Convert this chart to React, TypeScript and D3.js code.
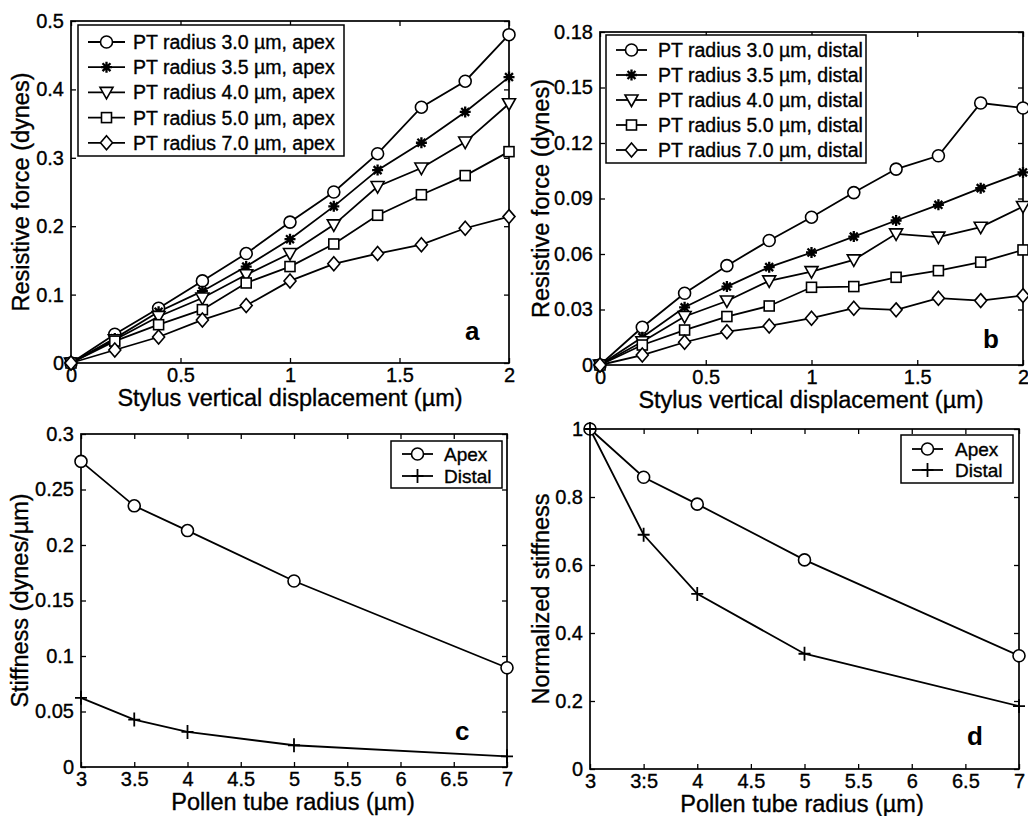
import React, { useEffect, useRef } from 'react';
import * as d3 from 'd3';

// ---- data ----
const displacement = [0, 0.2, 0.4, 0.6, 0.8, 1.0, 1.2, 1.4, 1.6, 1.8, 2.0];

const apex30 = [0, 0.042, 0.080, 0.120, 0.160, 0.206, 0.250, 0.306, 0.374, 0.412, 0.480];
const apex35 = [0, 0.036, 0.075, 0.105, 0.141, 0.181, 0.229, 0.282, 0.322, 0.367, 0.418];
const apex40 = [0, 0.034, 0.068, 0.095, 0.129, 0.160, 0.202, 0.258, 0.285, 0.323, 0.379];
const apex50 = [0, 0.032, 0.056, 0.078, 0.117, 0.141, 0.174, 0.216, 0.246, 0.274, 0.309];
const apex70 = [0, 0.019, 0.038, 0.063, 0.084, 0.120, 0.145, 0.160, 0.173, 0.197, 0.214];

const distal30 = [0, 0.0204, 0.0388, 0.0537, 0.0673, 0.0799, 0.0932, 0.1059, 0.1131, 0.1416, 0.1389];
const distal35 = [0, 0.0150, 0.0312, 0.0424, 0.0529, 0.0608, 0.0694, 0.0781, 0.0866, 0.0956, 0.1041];
const distal40 = [0, 0.0126, 0.0262, 0.0346, 0.0455, 0.0505, 0.0568, 0.0709, 0.0691, 0.0745, 0.0857];
const distal50 = [0, 0.0108, 0.0189, 0.0262, 0.0319, 0.0420, 0.0424, 0.0474, 0.0510, 0.0556, 0.0622];
const distal70 = [0, 0.0054, 0.0123, 0.0180, 0.0211, 0.0253, 0.0307, 0.0298, 0.0361, 0.0348, 0.0375];

const radius = [3, 3.5, 4, 5, 7];
const stiffApex = [0.2753, 0.2353, 0.2130, 0.1676, 0.0894];
const stiffDistal = [0.0623, 0.0427, 0.0316, 0.0196, 0.0096];
const normApex = [1.0, 0.858, 0.779, 0.615, 0.333];
const normDistal = [1.0, 0.689, 0.515, 0.339, 0.185];

const seriesMarkers = ['circle', 'star', 'triangle', 'square', 'diamond'];
const apexLabels = ['PT radius 3.0 µm, apex', 'PT radius 3.5 µm, apex', 'PT radius 4.0 µm, apex', 'PT radius 5.0 µm, apex', 'PT radius 7.0 µm, apex'];
const distalLabels = ['PT radius 3.0 µm, distal', 'PT radius 3.5 µm, distal', 'PT radius 4.0 µm, distal', 'PT radius 5.0 µm, distal', 'PT radius 7.0 µm, distal'];
const stiffLabels = ['Apex', 'Distal'];
const stiffMarkers = ['circle', 'plus'];

const dispTicks = [0, 0.5, 1, 1.5, 2];
const dispTickLabels = ['0', '0.5', '1', '1.5', '2'];
const forceATicks = [0, 0.1, 0.2, 0.3, 0.4, 0.5];
const forceATickLabels = ['0', '0.1', '0.2', '0.3', '0.4', '0.5'];
const forceBTicks = [0, 0.03, 0.06, 0.09, 0.12, 0.15, 0.18];
const forceBTickLabels = ['0', '0.03', '0.06', '0.09', '0.12', '0.15', '0.18'];
const radiusTicks = [3, 3.5, 4, 4.5, 5, 5.5, 6, 6.5, 7];
const radiusTickLabelsC = ['3', '3.5', '4', '4.5', '5', '5.5', '6', '6.5', '7'];
const radiusTickLabelsD = ['3', '3:5', '4', '4.5', '5', '5.5', '6', '6.5', '7'];
const stiffTicks = [0, 0.05, 0.1, 0.15, 0.2, 0.25, 0.3];
const stiffTickLabels = ['0', '0.05', '0.1', '0.15', '0.2', '0.25', '0.3'];
const normTicks = [0, 0.2, 0.4, 0.6, 0.8, 1];
const normTickLabels = ['0', '0.2', '0.4', '0.6', '0.8', '1'];

const FONT = 'Liberation Sans, Arial, Helvetica, sans-serif';

// scanned print looks a touch heavier than plain regular weight
function ink(sel) {
  return sel.attr('fill', 'black').attr('stroke', 'black').attr('stroke-width', 0.35);
}

function drawMarker(g, type, cx, cy) {
  const s = 'black';
  if (type === 'circle') {
    g.append('circle').attr('cx', cx).attr('cy', cy).attr('r', 6)
      .attr('fill', 'white').attr('stroke', s).attr('stroke-width', 1.6);
  } else if (type === 'star') {
    const r = 5.5, q = r * 0.72;
    g.append('path')
      .attr('d', `M${cx - r},${cy}H${cx + r}M${cx},${cy - r}V${cy + r}M${cx - q},${cy - q}L${cx + q},${cy + q}M${cx - q},${cy + q}L${cx + q},${cy - q}`)
      .attr('stroke', s).attr('stroke-width', 2.3).attr('fill', 'none');
  } else if (type === 'triangle') {
    g.append('path').attr('d', `M${cx - 6.5},${cy - 5}L${cx + 6.5},${cy - 5}L${cx},${cy + 6.5}Z`)
      .attr('fill', 'white').attr('stroke', s).attr('stroke-width', 1.6);
  } else if (type === 'square') {
    g.append('rect').attr('x', cx - 5).attr('y', cy - 5).attr('width', 10).attr('height', 10)
      .attr('fill', 'white').attr('stroke', s).attr('stroke-width', 1.6);
  } else if (type === 'diamond') {
    g.append('path').attr('d', `M${cx},${cy - 7}L${cx + 6},${cy}L${cx},${cy + 7}L${cx - 6},${cy}Z`)
      .attr('fill', 'white').attr('stroke', s).attr('stroke-width', 1.6);
  } else if (type === 'plus') {
    g.append('path').attr('d', `M${cx - 6},${cy}H${cx + 6}M${cx},${cy - 7}V${cy + 7}`)
      .attr('stroke', s).attr('stroke-width', 1.8).attr('fill', 'none');
  }
}

function drawPanel(svg, p) {
  const x = d3.scaleLinear().domain(p.xDomain).range([p.left, p.right]);
  const y = d3.scaleLinear().domain(p.yDomain).range([p.bottom, p.top]);
  const g = svg.append('g');

  const styleAxis = (sel, showText) => {
    sel.select('.domain').remove();
    sel.selectAll('line').attr('stroke', 'black').attr('stroke-width', 1.3);
    sel.selectAll('text').attr('font-size', 20).attr('font-family', FONT).call(ink);
    if (!showText) sel.selectAll('text').remove();
  };

  g.append('g').attr('transform', `translate(0,${p.bottom})`)
    .call(d3.axisBottom(x).tickValues(p.xTicks).tickFormat((d, i) => p.xTickLabels[i]).tickSizeInner(-5).tickSizeOuter(0).tickPadding(5))
    .call(sel => styleAxis(sel, true));
  g.append('g').attr('transform', `translate(0,${p.top})`)
    .call(d3.axisTop(x).tickValues(p.xTicks).tickSizeInner(-5).tickSizeOuter(0))
    .call(sel => styleAxis(sel, false));
  g.append('g').attr('transform', `translate(${p.left},0)`)
    .call(d3.axisLeft(y).tickValues(p.yTicks).tickFormat((d, i) => p.yTickLabels[i]).tickSizeInner(-5).tickSizeOuter(0).tickPadding(7))
    .call(sel => styleAxis(sel, true));
  g.append('g').attr('transform', `translate(${p.right},0)`)
    .call(d3.axisRight(y).tickValues(p.yTicks).tickSizeInner(-5).tickSizeOuter(0))
    .call(sel => styleAxis(sel, false));

  g.append('rect').attr('x', p.left).attr('y', p.top)
    .attr('width', p.right - p.left).attr('height', p.bottom - p.top)
    .attr('fill', 'none').attr('stroke', 'black').attr('stroke-width', 1.7);

  const line = d3.line().x(d => x(d[0])).y(d => y(d[1]));
  p.series.forEach(s => {
    const pts = p.xs.map((xv, i) => [xv, s[i]]);
    g.append('path').datum(pts).attr('d', line)
      .attr('fill', 'none').attr('stroke', 'black').attr('stroke-width', 1.8);
  });
  p.series.forEach((s, si) => {
    p.xs.forEach((xv, i) => drawMarker(g, p.markers[si], x(xv), y(s[i])));
  });

  // legend
  const L = p.legend;
  g.append('rect').attr('x', L.x0).attr('y', L.y0).attr('width', L.x1 - L.x0).attr('height', L.y1 - L.y0)
    .attr('fill', 'white').attr('stroke', 'black').attr('stroke-width', 1.5);
  p.labels.forEach((lab, i) => {
    const ry = L.row0 + i * L.rowStep;
    g.append('line').attr('x1', L.lx0).attr('x2', L.lx1).attr('y1', ry).attr('y2', ry)
      .attr('stroke', 'black').attr('stroke-width', 1.8);
    drawMarker(g, p.markers[i], (L.lx0 + L.lx1) / 2, ry);
    g.append('text').attr('x', L.tx).attr('y', ry).attr('dy', '0.36em')
      .attr('font-size', L.fontSize).attr('font-family', FONT).call(ink).text(lab);
  });

  // titles
  g.append('text').attr('x', p.xTitleX).attr('y', p.bottom + 43)
    .attr('text-anchor', 'middle').attr('font-size', 23.5).attr('font-family', FONT).call(ink).text(p.xTitle);
  g.append('text').attr('transform', `translate(${p.yTitleX},${(p.top + p.bottom) / 2}) rotate(-90)`)
    .attr('dy', '0.36em').attr('text-anchor', 'middle').attr('font-size', 23.5).attr('font-family', FONT).call(ink).text(p.yTitle);
  g.append('text').attr('x', p.tag[0]).attr('y', p.tag[1]).attr('font-size', 26).attr('font-weight', 'bold')
    .attr('font-family', FONT).attr('fill', 'black').text(p.tagText);
}

export default function App() {
  const ref = useRef(null);

  useEffect(() => {
    const svg = d3.select(ref.current);
    svg.selectAll('*').remove();

    drawPanel(svg, {
      left: 71, right: 509, top: 21, bottom: 363,
      xDomain: [0, 2], yDomain: [0, 0.5],
      xTicks: dispTicks, xTickLabels: dispTickLabels,
      yTicks: forceATicks, yTickLabels: forceATickLabels,
      xs: displacement, series: [apex30, apex35, apex40, apex50, apex70],
      markers: seriesMarkers, labels: apexLabels,
      legend: { x0: 78, x1: 344, y0: 25, y1: 156, row0: 42, rowStep: 25.2, lx0: 88, lx1: 125, tx: 133, fontSize: 19.5 },
      xTitle: 'Stylus vertical displacement (µm)', xTitleX: 290, yTitle: 'Resistive force (dynes)', yTitleX: 21,
      tag: [465, 340], tagText: 'a',
    });
    drawPanel(svg, {
      left: 600, right: 1023, top: 32, bottom: 365,
      xDomain: [0, 2], yDomain: [0, 0.18],
      xTicks: dispTicks, xTickLabels: dispTickLabels,
      yTicks: forceBTicks, yTickLabels: forceBTickLabels,
      xs: displacement, series: [distal30, distal35, distal40, distal50, distal70],
      markers: seriesMarkers, labels: distalLabels,
      legend: { x0: 606, x1: 866, y0: 35, y1: 163, row0: 50, rowStep: 25, lx0: 616, lx1: 647, tx: 658, fontSize: 19.5 },
      xTitle: 'Stylus vertical displacement (µm)', xTitleX: 811, yTitle: 'Resistive force (dynes)', yTitleX: 541,
      tag: [983, 348], tagText: 'b',
    });
    drawPanel(svg, {
      left: 81, right: 507, top: 434, bottom: 767,
      xDomain: [3, 7], yDomain: [0, 0.3],
      xTicks: radiusTicks, xTickLabels: radiusTickLabelsC,
      yTicks: stiffTicks, yTickLabels: stiffTickLabels,
      xs: radius, series: [stiffApex, stiffDistal],
      markers: stiffMarkers, labels: stiffLabels,
      legend: { x0: 391, x1: 502, y0: 441, y1: 488, row0: 454, rowStep: 22, lx0: 402, lx1: 433, tx: 444, fontSize: 19 },
      xTitle: 'Pollen tube radius (µm)', xTitleX: 293, yTitle: 'Stiffness (dynes/µm)', yTitleX: 20,
      tag: [455, 740], tagText: 'c',
    });
    drawPanel(svg, {
      left: 590, right: 1019, top: 429, bottom: 769,
      xDomain: [3, 7], yDomain: [0, 1],
      xTicks: radiusTicks, xTickLabels: radiusTickLabelsD,
      yTicks: normTicks, yTickLabels: normTickLabels,
      xs: radius, series: [normApex, normDistal],
      markers: stiffMarkers, labels: stiffLabels,
      legend: { x0: 901, x1: 1013, y0: 435, y1: 483, row0: 449, rowStep: 21, lx0: 912, lx1: 943, tx: 955, fontSize: 19 },
      xTitle: 'Pollen tube radius (µm)', xTitleX: 802, yTitle: 'Normalized stiffness', yTitleX: 541,
      tag: [967, 745], tagText: 'd',
    });
  }, []);

  return (
    <svg ref={ref} width={1028} height={816}
      style={{ position: 'absolute', left: 0, top: 0, background: 'white' }} />
  );
}
